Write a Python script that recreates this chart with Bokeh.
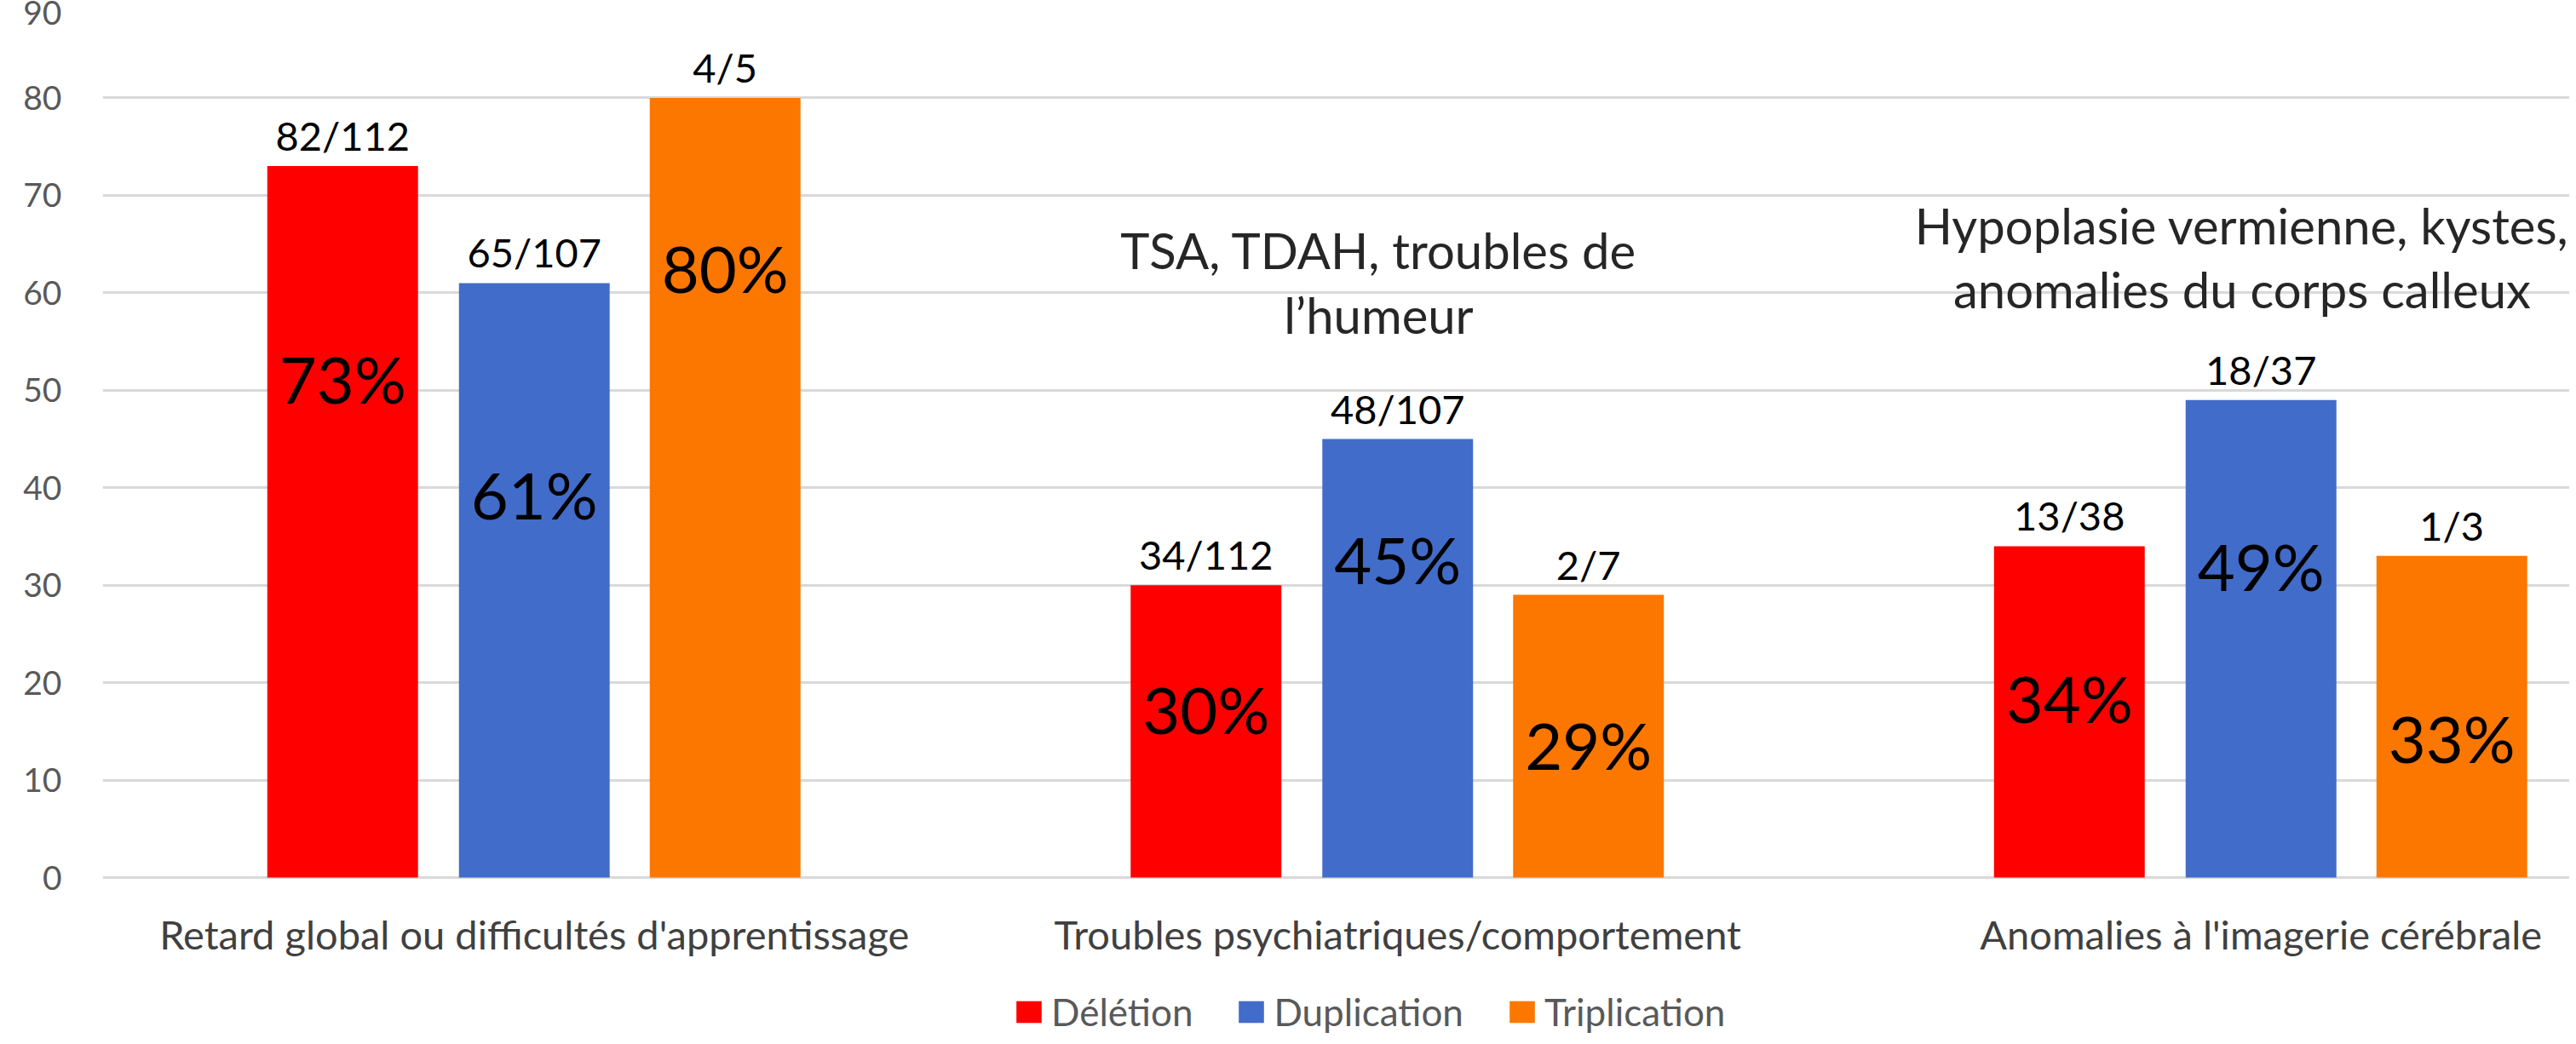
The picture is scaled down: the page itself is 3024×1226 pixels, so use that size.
from bokeh.plotting import figure
from bokeh.models import Range1d, FixedTicker, ColumnDataSource, Legend, LegendItem
from bokeh.transform import dodge
from bokeh.core.properties import value
from bokeh.embed import file_html
from bokeh.resources import INLINE

# ---------------- data ----------------
categories = ["Retard global ou difficultés d'apprentissage",
              "Troubles psychiatriques/comportement",
              "Anomalies à l'imagerie cérébrale"]
series = ["Délétion", "Duplication", "Triplication"]
deletion = [73, 30, 34]
duplication = [61, 45, 49]
triplication = [80, 29, 33]
deletion_counts = ["82/112", "34/112", "13/38"]
duplication_counts = ["65/107", "48/107", "18/37"]
triplication_counts = ["4/5", "2/7", "1/3"]
# height (in % units) at which each percentage label sits inside its bar
deletion_label_level = [51.2, 17.3, 18.4]
duplication_label_level = [39.3, 32.7, 32.0]
triplication_label_level = [62.6, 13.6, 14.3]
# annotations written above some categories (category index, line, baseline level)
note_category = [1, 1, 2, 2]
note_text = ["TSA, TDAH, troubles de", "l’humeur",
             "Hypoplasie vermienne, kystes,", "anomalies du corps calleux"]
note_level = [63.0, 56.4, 65.5, 59.0]
y_ticks = [0, 10, 20, 30, 40, 50, 60, 70, 80, 90]

colors = ["#FF0000", "#426CC9", "#FC7700"]
FONT = "Lato"

xs = [i + 0.5 for i in range(len(categories))]
source = ColumnDataSource(data=dict(
    x=xs, zero=[0] * len(xs), cat=categories,
    deletion=deletion, duplication=duplication, triplication=triplication,
    deletion_counts=deletion_counts, duplication_counts=duplication_counts,
    triplication_counts=triplication_counts,
    deletion_pct=[f"{v}%" for v in deletion],
    duplication_pct=[f"{v}%" for v in duplication],
    triplication_pct=[f"{v}%" for v in triplication],
    deletion_lvl=deletion_label_level,
    duplication_lvl=duplication_label_level,
    triplication_lvl=triplication_label_level,
))

W, H = 3016, 1218
FRAME_LEFT = 120
CAT_PX = 1013.5
ZERO_PX = 1030          # figure-pixel row of the 0 line
Y_TOP = 90
y_bottom = -Y_TOP * (H - ZERO_PX) / ZERO_PX   # frame runs down to the figure bottom
p = figure(width=W, height=H, output_backend="svg", toolbar_location=None,
           x_range=Range1d(0, (W - FRAME_LEFT) / CAT_PX),
           y_range=Range1d(y_bottom, Y_TOP),
           min_border_left=FRAME_LEFT, min_border_right=0, min_border_top=0,
           min_border_bottom=0)
p.outline_line_color = None
p.background_fill_color = "white"
p.border_fill_color = "white"
p.xaxis.visible = False

offsets = [-0.222, 0.0, 0.221]
keys = ["deletion", "duplication", "triplication"]
bar_w = 0.1746
renderers = []
for k, off, c in zip(keys, offsets, colors):
    r = p.vbar(x=dodge("x", off, range=p.x_range), top=k, width=bar_w, bottom=0,
               source=source, fill_color=c, line_color=None)
    renderers.append(r)
    p.text(x=dodge("x", off, range=p.x_range), y=k, text=k + "_counts", source=source,
           text_align="center", text_baseline="alphabetic", y_offset=-36,
           text_font=value(FONT), text_font_size="47px", text_color="#000000")
    p.text(x=dodge("x", off, range=p.x_range), y=k + "_lvl", text=k + "_pct", source=source,
           text_align="center", text_baseline="middle",
           text_font=value(FONT), text_font_size="76px", text_color="#000000")

# category labels under the bars
p.text(x="x", y="zero", text="cat", source=source, text_align="center",
       text_baseline="middle", y_offset=66, text_font=value(FONT),
       text_font_size="47px", text_color="#404040")

note_src = ColumnDataSource(data=dict(
    x=[xs[i] for i in note_category], y=note_level, text=note_text))
p.text(x=dodge("x", -0.022, range=p.x_range), y="y", text="text", source=note_src,
       text_align="center", text_baseline="alphabetic", y_offset=-16,
       text_font=value(FONT), text_font_size="58px", text_color="#262626")

# grid
p.xgrid.grid_line_color = None
p.ygrid.grid_line_color = "#D9D9D9"
p.ygrid.grid_line_width = 3
p.yaxis.ticker = FixedTicker(ticks=y_ticks)

# y axis
yax = p.yaxis[0]
yax.axis_line_color = None
yax.major_tick_line_color = None
yax.minor_tick_line_color = None
yax.major_label_standoff = 42
yax.major_label_text_font = FONT
yax.major_label_text_font_size = "39px"
yax.major_label_text_color = "#595959"

legend = Legend(items=[LegendItem(label=s, renderers=[r]) for s, r in zip(series, renderers)],
                orientation="horizontal", location=(1069, 4),
                glyph_width=37, glyph_height=32, label_standoff=8, spacing=50,
                padding=0, margin=0, border_line_color=None, background_fill_alpha=0,
                label_text_font=FONT, label_text_font_size="44px",
                label_text_color="#595959")
p.add_layout(legend)

open("out.html", "w").write(file_html(p, INLINE))
